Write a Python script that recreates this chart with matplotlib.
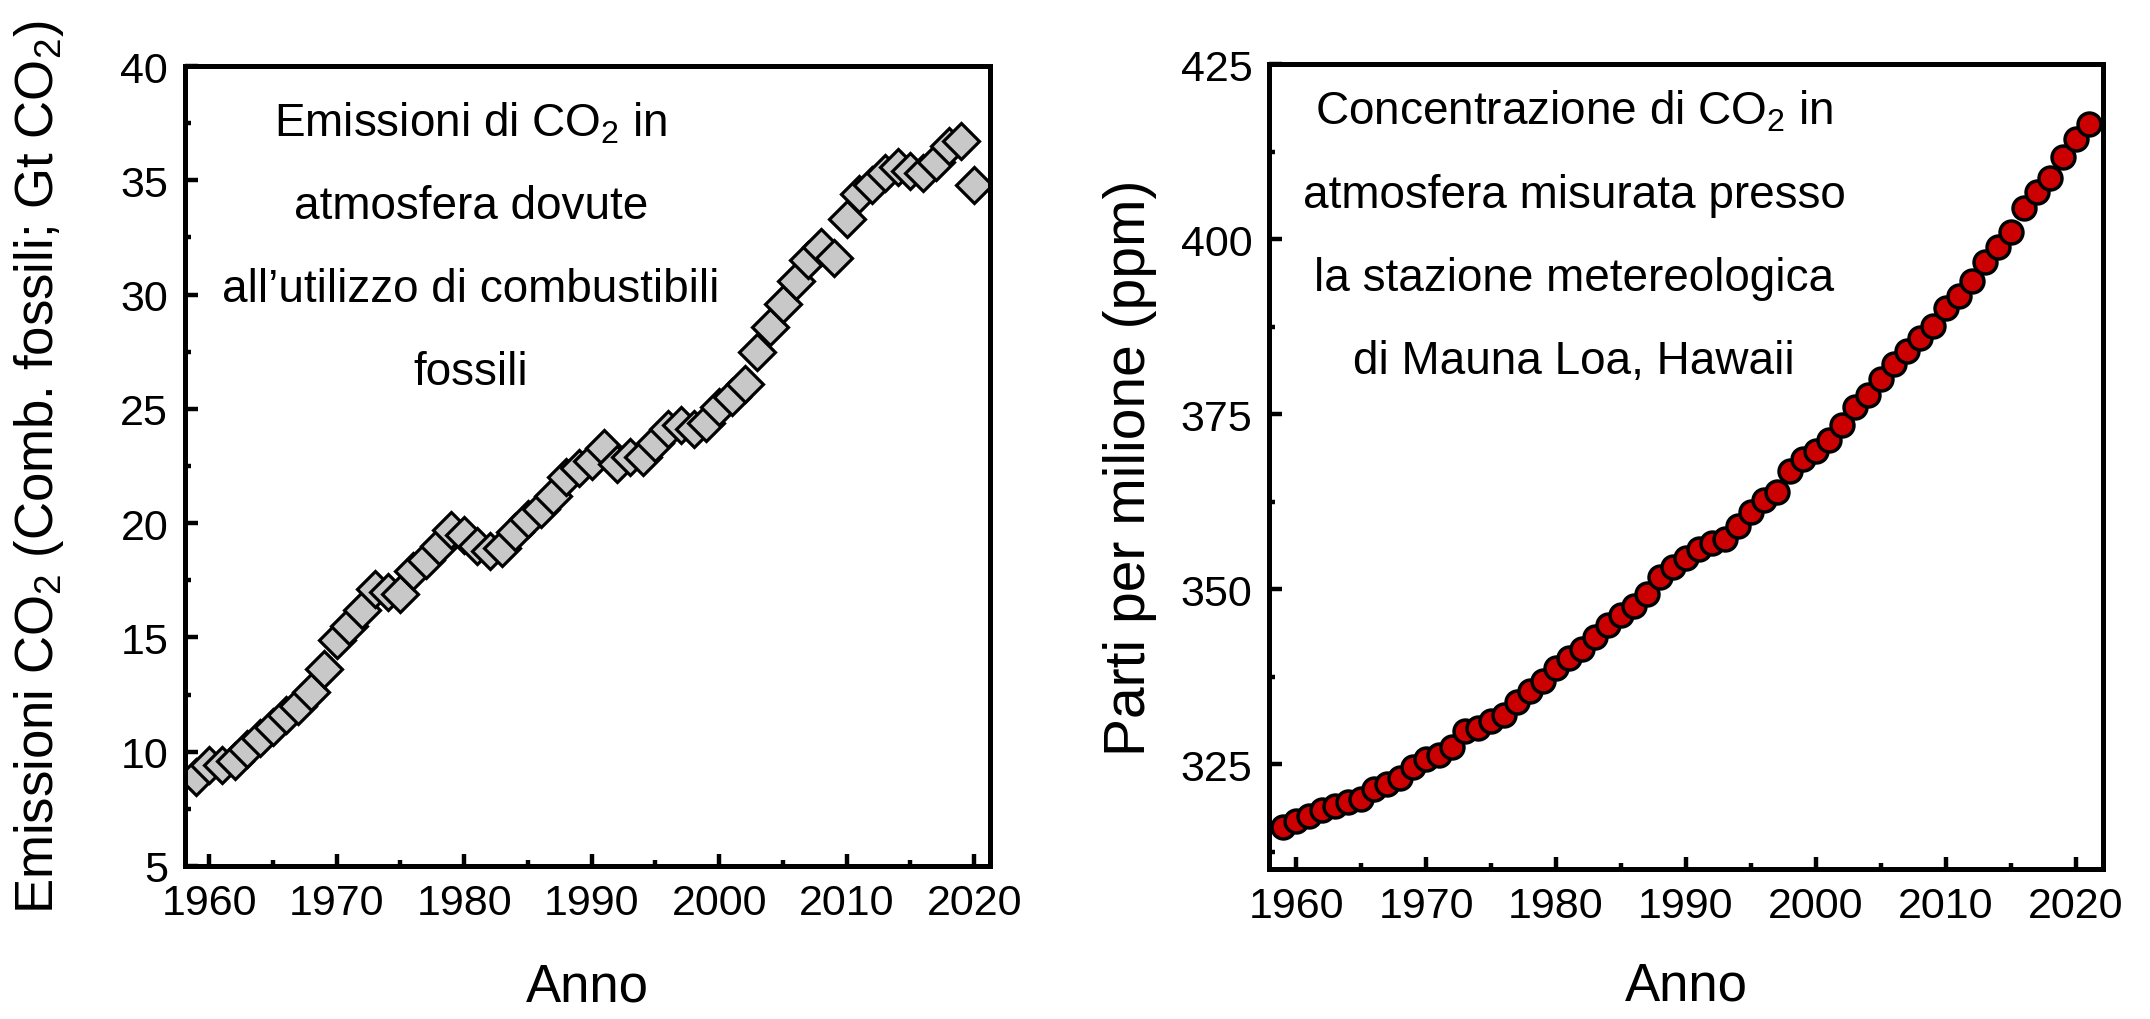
import matplotlib
matplotlib.use('Agg')
import matplotlib.pyplot as plt
from matplotlib.ticker import MultipleLocator

plt.rcParams['font.family'] = ['Liberation Sans', 'DejaVu Sans']
plt.rcParams['mathtext.default'] = 'regular'

# dati emissioni (Gt CO2)
anni_emi = list(range(1959, 2021))
emissioni = [8.9, 9.4, 9.4, 9.6, 10.1, 10.6, 11.1, 11.6, 12.0, 12.6,
             13.6, 14.9, 15.5, 16.2, 17.1, 17.0, 16.9, 17.9, 18.4, 19.0,
             19.7, 19.5, 19.0, 18.8, 18.9, 19.6, 20.2, 20.6, 21.2, 22.0,
             22.4, 22.7, 23.3, 22.6, 22.9, 22.9, 23.5, 24.1, 24.3, 24.1,
             24.4, 25.1, 25.5, 26.1, 27.5, 28.6, 29.6, 30.6, 31.5, 32.1,
             31.6, 33.3, 34.4, 34.8, 35.3, 35.6, 35.4, 35.3, 35.8, 36.5,
             36.7, 34.8]

# concentrazione Mauna Loa (ppm)
anni_ppm = list(range(1959, 2022))
ppm = [315.98, 316.91, 317.64, 318.45, 318.99, 319.62, 320.04, 321.37, 322.18, 323.05,
       324.62, 325.68, 326.32, 327.46, 329.68, 330.19, 331.13, 332.03, 333.84, 335.41,
       336.84, 338.76, 340.12, 341.48, 343.15, 344.87, 346.35, 347.61, 349.31, 351.69,
       353.20, 354.45, 355.70, 356.54, 357.21, 358.96, 360.97, 362.74, 363.88, 366.84,
       368.54, 369.71, 371.32, 373.45, 375.98, 377.70, 379.98, 382.09, 384.02, 385.83,
       387.64, 390.10, 391.85, 394.06, 396.74, 398.81, 401.01, 404.41, 406.76, 408.72,
       411.66, 414.24, 416.45]

fig = plt.figure(figsize=(21.5, 10.2), dpi=100)
ax1 = fig.add_axes([0.0860, 0.150, 0.3745, 0.7843])
ax2 = fig.add_axes([0.5902, 0.147, 0.3879, 0.7892])


def stile(ax):
    for s in ax.spines.values():
        s.set_linewidth(3.6)
    ax.tick_params(which='both', direction='in', top=False, right=False,
                   width=3.2, labelsize=31, pad=12)
    ax.tick_params(which='major', length=9)
    ax.tick_params(which='minor', length=4.5)
    ax.xaxis.set_major_locator(MultipleLocator(10))
    ax.xaxis.set_minor_locator(MultipleLocator(5))
    ax.set_xlabel('Anno', fontsize=38)


# pannello sinistro
ax1.plot(anni_emi, emissioni, linestyle='none', marker='D', markersize=18,
         markerfacecolor='#c8c8c8', markeredgecolor='black', markeredgewidth=2.3)
ax1.set_xlim(1958.1, 2021.25)
ax1.set_ylim(5, 40)
ax1.yaxis.set_major_locator(MultipleLocator(5))
ax1.yaxis.set_minor_locator(MultipleLocator(2.5))
stile(ax1)
ax1.set_ylabel('Emissioni CO$_2$ (Comb. fossili; Gt CO$_2$)', fontsize=38)
ax1.yaxis.set_label_coords(-0.148, 0.5)
ax1.xaxis.set_label_coords(0.5, -0.119)
ax1.text(0.355, 0.958, 'Emissioni di CO$_2$ in\natmosfera dovute\n'
         'all\u2019utilizzo di combustibili\nfossili',
         transform=ax1.transAxes, ha='center', va='top', fontsize=33,
         linespacing=2.15, multialignment='center')

# pannello destro
ax2.plot(anni_ppm, ppm, linestyle='none', marker='o', markersize=16.5,
         markerfacecolor='#cc0000', markeredgecolor='black', markeredgewidth=2.5)
ax2.set_xlim(1957.9, 2022.1)
ax2.set_ylim(310, 425)
ax2.yaxis.set_major_locator(MultipleLocator(25))
ax2.yaxis.set_minor_locator(MultipleLocator(12.5))
stile(ax2)
ax2.set_ylabel('Parti per milione (ppm)', fontsize=41)
ax2.yaxis.set_label_coords(-0.134, 0.5)
ax2.xaxis.set_label_coords(0.5, -0.114)
ax2.text(0.366, 0.970, 'Concentrazione di CO$_2$ in\natmosfera misurata presso\n'
         'la stazione metereologica\ndi Mauna Loa, Hawaii',
         transform=ax2.transAxes, ha='center', va='top', fontsize=33,
         linespacing=2.15, multialignment='center')

fig.savefig('out.png', dpi=100)
